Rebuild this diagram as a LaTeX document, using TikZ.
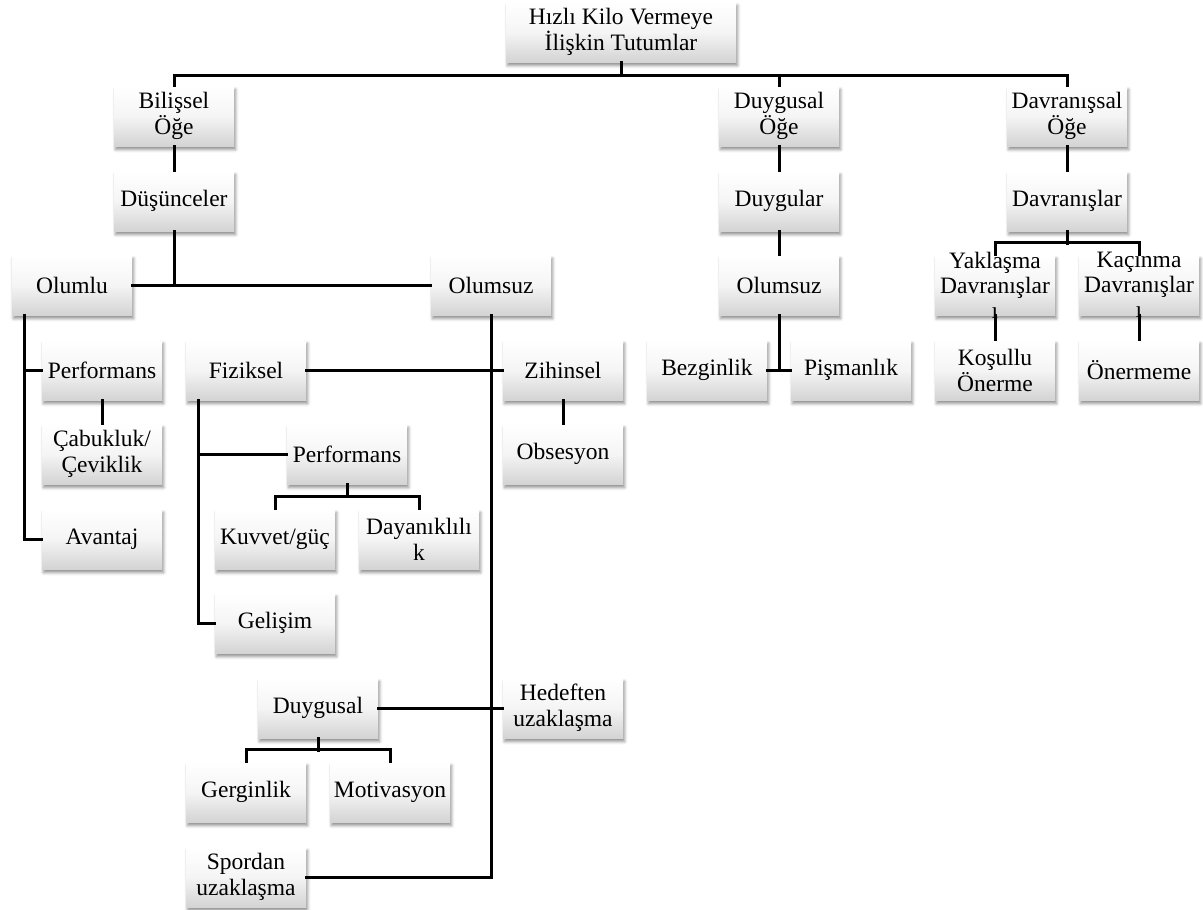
\documentclass[tikz,border=0pt]{standalone}
\usepackage{fontspec}
\setmainfont{Liberation Serif}[Ligatures=TeX]
\newfontfamily\tnr{Liberation Serif}[Ligatures=TeX]
\usetikzlibrary{shadows.blur}
\begin{document}
\begin{tikzpicture}[x=1pt,y=-1pt,
  box/.style={minimum width=120pt,minimum height=60pt,inner sep=0pt,align=center,
    top color=white,bottom color=black!17,middle color=white!96!black,
    blur shadow={shadow xshift=1.5pt,shadow yshift=-3.5pt,shadow blur radius=3pt,shadow opacity=45},
    font=\tnr\fontsize{23.5}{26}\selectfont},
  plain/.style={inner sep=0pt,align=center,font=\tnr\fontsize{23.5}{25}\selectfont},
  conn/.style={line width=3pt,line cap=rect}]
\useasboundingbox (0,0) rectangle (1203,910);
% nodes
\node[box,minimum width=230pt] (top) at (621,32) {Hızlı Kilo Vermeye\\İlişkin Tutumlar};
\node[box] (bil) at (174,116) {Bilişsel\\Öğe};
\node[box] (dus) at (174,201) {Düşünceler};
\node[box] (olumlu) at (72,285) {Olumlu};
\node[box] (olumsuz) at (491,285) {Olumsuz};
\node[box] (perf1) at (102,370) {Performans};
\node[box] (cab) at (102,454) {Çabukluk/\\Çeviklik};
\node[box] (avantaj) at (102,539) {Avantaj};
\node[box] (fiz) at (246,370) {Fiziksel};
\node[box] (perf2) at (347,454) {Performans};
\node[box] (kuv) at (275,539) {Kuvvet/güç};
\node[box] (day) at (419,539) {Dayanıklılı\\k};
\node[box] (gel) at (275,623) {Gelişim};
\node[box] (duyg) at (318,708) {Duygusal};
\node[box] (ger) at (246,792) {Gerginlik};
\node[box] (mot) at (390,792) {Motivasyon};
\node[box] (spor) at (246,877) {Spordan\\uzaklaşma};
\node[box] (zih) at (563,370) {Zihinsel};
\node[box] (obs) at (563,454) {Obsesyon};
\node[box] (hed) at (563,708) {Hedeften\\uzaklaşma};
\node[box] (duyoge) at (779,116) {Duygusal\\Öğe};
\node[box] (duygular) at (779,201) {Duygular};
\node[box] (olumsuzb) at (779,285) {Olumsuz};
\node[box] (bez) at (707,370) {Bezginlik};
\node[box] (pis) at (851,370) {Pişmanlık};
\node[box] (davoge) at (1067,116) {Davranışsal\\Öğe};
\node[box] (davr) at (1067,201) {Davranışlar};
\node[box] (yak) at (995,285) {};
\node[box] (kac) at (1139,285) {};
\node[box] (kos) at (995,370) {Koşullu\\Önerme};
\node[box] (oner) at (1139,370) {Önermeme};
% connectors
\coordinate (bus) at (0,75);
\draw[conn] (top.south) -- (top.south |- bus);
\draw[conn] (bil.north) |- (davoge.north |- bus) -- (davoge.north);
\draw[conn] (duyoge.north) -- (duyoge.north |- bus);
\draw[conn] (bil) -- (dus);
\draw[conn] (dus.south) -- (dus.south |- olumlu.east);
\draw[conn] (olumlu.east) -- (olumsuz.west);
\coordinate (ol1) at (24,315);
\draw[conn] (ol1) |- (avantaj.west);
\draw[conn] (ol1 |- perf1.west) -- (perf1.west);
\draw[conn] (perf1) -- (cab);
\draw[conn] (olumsuz.south) |- (spor.east);
\draw[conn] (fiz.east) -- (zih.west);
\draw[conn] (duyg.east) -- (hed.west);
\draw[conn] (zih) -- (obs);
\coordinate (fz) at (198,400);
\draw[conn] (fz) |- (gel.west);
\draw[conn] (fz |- perf2.west) -- (perf2.west);
\draw[conn] (perf2.south) -- ++(0,12);
\draw[conn] (kuv.north) -- ++(0,-12) -| (day.north);
\draw[conn] (duyg.south) -- ++(0,12);
\draw[conn] (ger.north) -- ++(0,-12) -| (mot.north);
\draw[conn] (duyoge) -- (duygular);
\draw[conn] (duygular) -- (olumsuzb);
\draw[conn] (olumsuzb.south) -- (olumsuzb.south |- bez.east);
\draw[conn] (bez.east) -- (pis.west);
\draw[conn] (davoge) -- (davr);
\draw[conn] (davr.south) -- ++(0,12);
\draw[conn] (yak.north) -- ++(0,-12) -| (kac.north);
\draw[conn] (yak) -- (kos);
\draw[conn] (kac) -- (oner);
% overflowing texts
\node[plain] (yakt) at (yak.center) {Yaklaşma\\Davranışlar\\ı};
\node[plain] (kact) at (kac.center) {Kaçınma\\Davranışlar\\ı};
\end{tikzpicture}
\end{document}
